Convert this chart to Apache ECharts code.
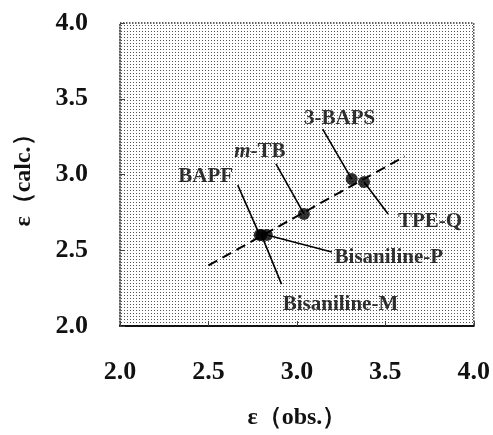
<!DOCTYPE html>
<html>
<head>
<meta charset="utf-8">
<script src="https://cdn.jsdelivr.net/npm/echarts@6/dist/echarts.min.js"></script>
<style>
html,body{margin:0;padding:0;background:#fff;}
#c{width:493px;height:435px;}
</style>
</head>
<body>
<div id="c"></div>
<script>
// ---- data ----
const names = ['BAPF', 'Bisaniline-M', 'Bisaniline-P', 'm-TB', '3-BAPS', 'TPE-Q'];
const obsValues = [2.79, 2.80, 2.83, 3.04, 3.31, 3.38];
const calcValues = [2.60, 2.60, 2.60, 2.74, 2.97, 2.95];
const fitObs = [2.50, 3.61];
const fitCalc = [2.40, 3.12];
const tickValues = ['2.0', '2.5', '3.0', '3.5', '4.0'];
const xTitle = 'ε（obs.）';
const yTitle = 'ε（calc.）';

// ---- style (pixel offsets, not data) ----
const labelOffsets = [[-54, -59], [79, 69], [122, 22], [-44, -62], [-12, -60], [66, 40]];
const leaderEnds = [[-22, -50], [20, 49], [65, 17], [-28, -50], [-29, -50], [24, 32]];

// halftone pattern
const pc = document.createElement('canvas');
pc.width = 3; pc.height = 3;
const pctx = pc.getContext('2d');
pctx.fillStyle = '#ffffff'; pctx.fillRect(0, 0, 3, 3);
pctx.fillStyle = '#555555'; pctx.fillRect(1, 1, 1, 1);

const serif = '"Liberation Serif","DejaVu Serif",serif';
const chart = echarts.init(document.getElementById('c'), null, {renderer: 'canvas'});

const scatterData = names.map((n, i) => ({name: n, value: [obsValues[i], calcValues[i]]}));
const fitData = fitObs.map((x, i) => [x, fitCalc[i]]);

chart.setOption({
  animation: false,
  grid: {
    left: 120, right: 15, top: 23, bottom: 104,
    show: true,
    backgroundColor: {image: pc, repeat: 'repeat'},
    borderColor: '#333', borderWidth: 1.5, borderType: 'dotted'
  },
  xAxis: {
    type: 'value', min: 2, max: 4, interval: 0.5,
    axisLine: {show: true, lineStyle: {color: '#111', width: 2}},
    axisTick: {show: true, inside: true, length: 5, lineStyle: {color: '#444', width: 1}},
    splitLine: {show: false},
    axisLabel: {
      margin: 33, color: '#111', fontFamily: serif, fontWeight: 'bold', fontSize: 26,
      formatter: (v) => tickValues[Math.round((v - 2) / 0.5)]
    },
    name: xTitle, nameLocation: 'middle', nameGap: 80,
    nameTextStyle: {color: '#111', fontFamily: serif, fontWeight: 'bold', fontSize: 24}
  },
  yAxis: {
    type: 'value', min: 2, max: 4, interval: 0.5,
    axisLine: {show: true, lineStyle: {color: '#555', width: 1.5, type: 'dotted'}},
    axisTick: {show: true, inside: true, length: 5, lineStyle: {color: '#444', width: 1}},
    splitLine: {show: false},
    axisLabel: {
      margin: 32, color: '#111', fontFamily: serif, fontWeight: 'bold', fontSize: 26,
      formatter: (v) => tickValues[Math.round((v - 2) / 0.5)]
    },
    name: yTitle, nameLocation: 'middle', nameGap: 84, nameRotate: 90,
    nameTextStyle: {color: '#111', fontFamily: serif, fontWeight: 'bold', fontSize: 24}
  },
  series: [
    {
      type: 'line', data: fitData, symbol: 'none', silent: true,
      lineStyle: {color: '#000', width: 2, type: [10, 6]}, z: 2
    },
    {
      type: 'scatter', data: scatterData, symbol: 'circle', symbolSize: 12,
      itemStyle: {color: '#000'}, z: 3,
      label: {
        show: true, position: 'inside',
        color: '#000', fontFamily: serif, fontWeight: 'bold', fontSize: 21,
        formatter: (p) => p.name === 'm-TB' ? '{i|m}-TB' : p.name,
        rich: {i: {fontFamily: serif, fontWeight: 'bold', fontStyle: 'italic', fontSize: 21, color: '#000'}}
      },
      labelLayout: (p) => {
        const o = labelOffsets[p.dataIndex];
        const cx = p.rect.x + p.rect.width / 2;
        const cy = p.rect.y + p.rect.height / 2;
        return {x: cx + o[0], y: cy + o[1], align: 'center', verticalAlign: 'middle'};
      }
    }
  ]
});

// leader lines from each data point (pixel position via the chart's scales)
const leaders = scatterData.map((d, i) => {
  const p = chart.convertToPixel({seriesIndex: 1}, d.value);
  const e = leaderEnds[i];
  return {
    type: 'line', z: 4, silent: true,
    shape: {x1: p[0], y1: p[1], x2: p[0] + e[0], y2: p[1] + e[1]},
    style: {stroke: '#000', lineWidth: 1.6}
  };
});
chart.setOption({graphic: leaders});
</script>
</body>
</html>
